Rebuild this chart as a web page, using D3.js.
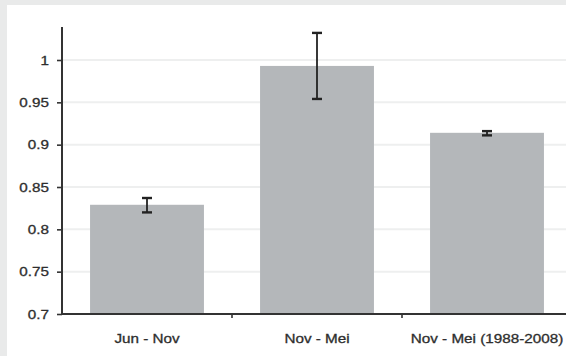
<!DOCTYPE html>
<html>
<head>
<meta charset="utf-8">
<script src="https://cdn.jsdelivr.net/npm/d3@7"></script>
<style>
  html, body { margin: 0; padding: 0; background: #e9eaea; }
  svg { display: block; }
  text { font-family: "Liberation Sans", Arial, Helvetica, sans-serif; }
</style>
</head>
<body>
<script>
// Seasonal ratios with error ranges
const categories = ["Jun - Nov", "Nov - Mei", "Nov - Mei (1988-2008)"];
const means = [0.829, 0.993, 0.914];
const lowErr = [0.820, 0.954, 0.911];
const highErr = [0.837, 1.032, 0.916];
const yTicks = [0.7, 0.75, 0.8, 0.85, 0.9, 0.95, 1];

const W = 566, H = 356;
const TEXT_STRETCH = 1.22; // labels are set in a horizontally widened face
const svg = d3.select("body").append("svg").attr("width", W).attr("height", H);

// white panel
svg.append("rect").attr("x", 7).attr("y", 5).attr("width", W - 7).attr("height", H - 5).attr("fill", "#ffffff");

const x = d3.scaleBand().domain(categories).range([62, 572]).paddingInner(0.33).paddingOuter(0.165);
const y = d3.scaleLinear().domain([0.7, 1]).range([314, 60]);

// horizontal gridlines
svg.append("g").selectAll("line").data(yTicks.slice(1)).join("line")
  .attr("x1", 62).attr("x2", W)
  .attr("y1", d => y(d)).attr("y2", d => y(d))
  .attr("stroke", "#eeefef").attr("stroke-width", 2);

// bars
svg.append("g").selectAll("rect").data(categories).join("rect")
  .attr("x", d => x(d))
  .attr("width", x.bandwidth())
  .attr("y", (d, i) => y(means[i]))
  .attr("height", (d, i) => y(0.7) - y(means[i]))
  .attr("fill", "#b4b7ba");

// error bars
const eb = svg.append("g").attr("stroke", "#222").attr("fill", "none");
categories.forEach((c, i) => {
  const cx = x(c) + x.bandwidth() / 2;
  eb.append("line").attr("x1", cx).attr("x2", cx).attr("y1", y(lowErr[i])).attr("y2", y(highErr[i])).attr("stroke-width", 1.8);
  [lowErr[i], highErr[i]].forEach(v => {
    eb.append("line").attr("x1", cx - 5).attr("x2", cx + 5).attr("y1", y(v)).attr("y2", y(v)).attr("stroke-width", 2.4);
  });
});

const labelStyle = sel => sel
  .attr("fill", "#2e2e2e").attr("font-size", 12.5)
  .attr("stroke", "#2e2e2e").attr("stroke-width", 0.3);

// y axis
const yAxis = svg.append("g").attr("transform", "translate(62,0)")
  .call(d3.axisLeft(y).tickValues(yTicks).tickSize(5).tickSizeOuter(0).tickFormat(d3.format("")));
yAxis.select(".domain").remove();
yAxis.append("line").attr("x1", 0).attr("x2", 0).attr("y1", 27).attr("y2", 315).attr("stroke", "#333").attr("stroke-width", 2);
yAxis.selectAll(".tick line").attr("stroke", "#333").attr("stroke-width", 1.6);
yAxis.selectAll(".tick text")
  .attr("x", -13 / TEXT_STRETCH)
  .attr("transform", `scale(${TEXT_STRETCH},1)`)
  .call(labelStyle);

// x axis
const xAxisG = svg.append("g").attr("transform", "translate(0,314)");
xAxisG.append("line").attr("x1", 61).attr("x2", W).attr("y1", 0).attr("y2", 0).attr("stroke", "#333").attr("stroke-width", 2);
const step = x.step();
const bounds = [x(categories[1]) - x.paddingInner() * step / 2, x(categories[2]) - x.paddingInner() * step / 2];
xAxisG.selectAll("line.sep").data(bounds).join("line").attr("class", "sep")
  .attr("x1", d => d).attr("x2", d => d).attr("y1", 0).attr("y2", 4)
  .attr("stroke", "#333").attr("stroke-width", 1.6);
xAxisG.selectAll("text").data(categories).join("text")
  .attr("transform", d => `translate(${x(d) + x.bandwidth() / 2},29) scale(${TEXT_STRETCH},1)`)
  .attr("text-anchor", "middle")
  .call(labelStyle)
  .text(d => d);
</script>
</body>
</html>
